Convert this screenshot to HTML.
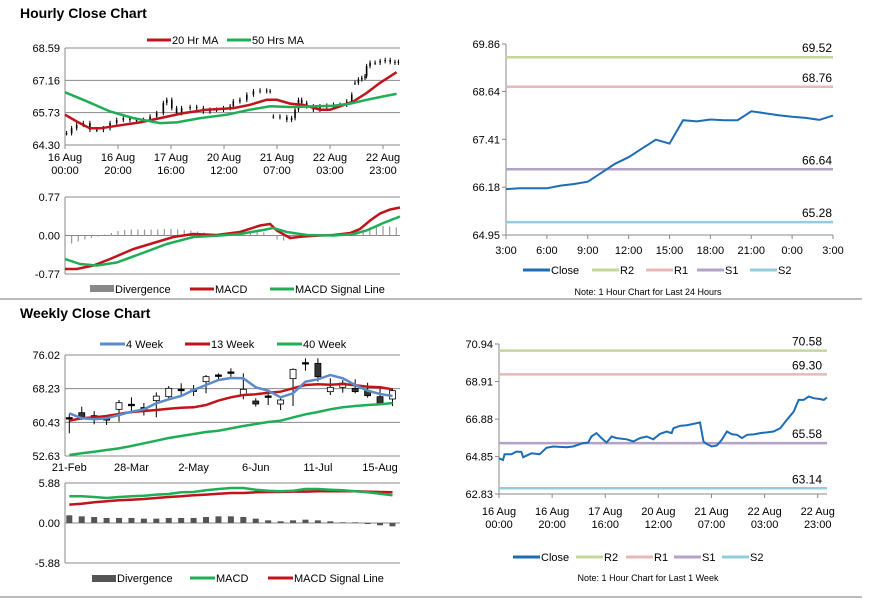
<!DOCTYPE html>
<html><head><meta charset="utf-8"><style>
body{margin:0;background:#fff;}
svg{display:block;font-family:"Liberation Sans",sans-serif;}
text{font-size:11px;fill:#000;}
</style></head><body>
<svg id="c" width="873" height="601" viewBox="0 0 873 601">
<text x="20" y="18" style="font-size:14px;font-weight:bold">Hourly Close Chart</text>
<text x="20" y="318" style="font-size:14px;font-weight:bold">Weekly Close Chart</text>
<line x1="0" y1="299" x2="862" y2="299" stroke="#777"/>
<line x1="0" y1="597" x2="862" y2="597" stroke="#777"/>
</svg>
<script>
// ---------- Hourly candles (t in hours) ----------
const hcT=[0.6,2.5,4.4,6.9,9.4,12.0,14.5,17.0,19.5,22.0,24.5,27.0,29.6,32.1,34.6,37.1,38.4,40.3,42.1,44.0,47.2,49.7,52.2,54.7,57.2,59.8,62.3,63.5,66.0,68.6,71.1,73.6,76.1,77.4,78.6,81.1,83.7,85.5,86.8,88.1,89.3,91.2,93.7,96.2,98.8,101.3,103.8,106.3,108.2,109.4,110.7,112.0,113.2,113.8,115.1,117.0,118.9,120.8,122.7,124.5,125.8];
const hcClose=[64.82,65.04,65.19,65.27,64.97,64.97,65.04,65.27,65.41,65.49,65.41,65.41,65.41,65.56,65.71,66.16,66.30,65.93,65.71,65.93,65.98,65.93,65.78,65.86,65.86,65.93,66.01,66.23,66.30,66.53,66.68,66.71,66.68,66.68,65.56,65.53,65.41,65.49,65.86,66.30,66.16,66.01,65.86,66.01,66.04,66.08,66.08,66.23,66.53,67.05,67.20,67.27,67.34,67.79,67.94,67.94,68.01,68.06,67.97,67.94,67.98];
const ma20T=[0,4.4,9.4,13.2,19.5,28.3,35.9,44.7,53.5,63.6,69.8,76.1,79.9,84.9,89.9,96.2,100.0,103.8,108.8,113.8,118.9,125.1];
const ma20=[65.64,65.34,65.04,65.04,65.15,65.30,65.49,65.71,65.86,65.93,66.08,66.30,66.30,66.13,66.08,65.86,65.86,66.01,66.23,66.60,67.05,67.52];
const ma50T=[0,6.9,17.0,25.8,35.9,42.2,51.0,61.1,69.8,77.4,84.9,95.0,101.3,107.6,113.8,120.1,125.1];
const ma50=[66.63,66.30,65.78,65.49,65.27,65.30,65.49,65.64,65.86,66.01,65.98,66.01,66.04,66.13,66.30,66.45,66.56];
const hTickLabels=[["16 Aug","00:00"],["16 Aug","20:00"],["17 Aug","16:00"],["20 Aug","12:00"],["21 Aug","07:00"],["22 Aug","03:00"],["22 Aug","23:00"]];
const hPriceTicks=[64.30,65.73,67.16,68.59];
// hourly MACD
const hMacdT=[0,4.4,10.7,17.0,25.8,32.1,40.9,48.4,57.2,66.0,73.6,77.4,79.9,84.9,89.9,96.2,101.3,107.6,111.3,115.1,118.9,122.7,126.4];
const hMacd=[-0.67,-0.67,-0.60,-0.47,-0.27,-0.17,-0.03,0.03,0.01,0.07,0.20,0.23,0.10,-0.05,-0.02,0.00,0.01,0.05,0.13,0.30,0.44,0.52,0.56];
const hSigT=[0,5.7,12.0,19.5,28.3,38.4,48.4,58.5,66.0,74.8,78.6,83.7,91.2,101.3,108.8,113.8,120.1,126.4];
const hSig=[-0.47,-0.57,-0.60,-0.54,-0.37,-0.17,-0.03,0.00,0.03,0.11,0.15,0.07,0.01,0.00,0.03,0.10,0.25,0.38];
const hDiv=[-0.20,-0.16,-0.12,-0.08,-0.05,-0.02,0.02,0.05,0.09,0.11,0.12,0.12,0.12,0.12,0.12,0.13,0.13,0.12,0.11,0.10,0.08,0.06,0.04,0.02,0.01,0.02,0.03,0.05,0.06,0.07,0.06,0.00,-0.08,-0.10,-0.08,-0.05,-0.03,-0.02,-0.01,0.00,0.01,0.02,0.03,0.05,0.08,0.12,0.16,0.18,0.19,0.18,0.16];
const hMacdTicks=[-0.77,0.00,0.77];
// ---------- 24h pivot chart ----------
const dHours=["3:00","6:00","9:00","12:00","15:00","18:00","21:00","0:00","3:00"];
const dClose=[66.13,66.15,66.15,66.15,66.22,66.26,66.32,66.55,66.78,66.95,67.18,67.40,67.30,67.90,67.87,67.92,67.90,67.90,68.13,68.08,68.03,67.99,67.96,67.91,68.02];
const dTicks=[64.95,66.18,67.41,68.64,69.86];
const dLevels=[69.52,68.76,66.64,65.28];
// ---------- 1 week pivot chart ----------
const wkT=[0,1.5,2.1,4.7,6.5,8.4,9.1,12.2,15.3,17.9,20.4,25.4,27.9,31.7,33.6,34.8,36.7,38.6,40.5,42.4,44.3,48.1,50.6,53.1,55.6,58.1,60.6,63.1,65.0,65.7,68.2,70.7,73.2,75.7,77.0,78.2,80.1,82.0,83.9,85.8,87.7,89.6,91.5,93.4,95.9,98.4,100.9,103.4,105.9,108.4,111.0,112.8,114.7,116.6,118.5,121.0,122.3,123.5];
const wkClose=[64.76,64.67,64.98,64.98,65.12,65.11,64.82,65.03,64.98,65.33,65.40,65.36,65.40,65.58,65.61,65.94,66.12,65.85,65.61,65.94,65.85,65.79,65.67,65.85,65.94,65.79,66.08,66.21,66.12,66.39,66.52,66.55,66.62,66.70,65.67,65.54,65.40,65.45,65.76,66.21,66.06,66.03,65.85,66.03,66.05,66.12,66.16,66.21,66.39,66.84,67.29,67.92,67.92,68.10,68.01,67.96,67.92,68.05];
const wkTicks=[62.83,64.85,66.88,68.91,70.94];
const wkLevels=[70.58,69.30,65.58,63.14];
// ---------- Weekly candles ----------
const wLabels=["21-Feb","28-Mar","2-May","6-Jun","11-Jul","15-Aug"];
const wOpen=[61.35,62.66,61.97,61.12,63.44,64.44,63.67,65.45,66.37,67.92,67.76,69.85,71.23,71.93,66.76,65.37,66.37,64.67,70.54,74.09,74.09,67.53,68.53,68.30,67.76,66.37,65.83];
const wClose=[61.35,61.58,61.58,60.81,64.98,64.44,63.67,66.50,68.30,67.92,67.76,71.00,71.23,71.93,68.07,64.67,66.37,65.60,72.70,74.09,71.00,68.53,69.50,67.53,66.60,64.83,67.76];
const wHigh=[62.5,64.06,63.05,62.13,65.6,66.2,64.9,67.37,68.84,69.46,69.07,71.39,71.77,72.93,71.77,66.0,67.14,66.2,72.93,75.25,75.25,70.62,70.23,70.39,69.6,68.3,68.3];
const wLow=[57.9,60.97,59.97,59.81,60.58,62.5,62.0,61.6,65.98,66.76,66.53,67.14,70.23,71.0,65.76,64.06,64.44,63.28,64.2,72.39,69.85,66.76,67.3,67.14,66.14,64.44,64.2];
const w4=[62.51,61.35,61.12,61.35,62.13,62.90,63.44,64.83,65.75,66.53,67.92,69.07,70.23,70.69,70.62,68.53,67.76,66.22,67.14,69.85,70.39,71.39,70.62,69.07,67.76,66.99,66.53];
const w13=[60.81,61.35,61.58,61.89,62.36,62.82,63.05,63.28,63.59,63.82,63.90,64.44,65.45,66.22,66.76,66.91,67.30,67.53,68.30,69.07,69.23,69.15,69.30,69.00,68.69,68.53,68.07];
const w40=[52.86,53.25,53.63,54.02,54.40,54.94,55.56,56.18,56.79,57.26,57.72,58.18,58.49,59.03,59.57,60.04,60.50,60.81,61.58,62.28,62.82,63.44,63.90,64.21,64.44,64.60,64.91];
const wTicks=[52.63,60.43,68.23,76.02];
const wMacd=[3.92,3.92,3.82,3.68,3.82,3.92,4.02,4.17,4.26,4.51,4.56,4.80,5.00,5.15,5.15,4.90,4.75,4.66,4.75,5.00,5.00,4.90,4.80,4.66,4.51,4.31,4.07];
const wSig=[2.70,2.84,3.04,3.19,3.33,3.43,3.53,3.68,3.82,3.92,4.07,4.17,4.31,4.41,4.41,4.51,4.56,4.56,4.61,4.61,4.66,4.66,4.66,4.66,4.61,4.56,4.51];
const wDiv=[1.13,0.98,0.88,0.74,0.74,0.74,0.64,0.64,0.74,0.74,0.74,0.88,0.98,0.98,0.88,0.64,0.39,0.25,0.39,0.49,0.39,0.25,0.10,0.10,-0.15,-0.34,-0.49];
const wMacdTicks=[-5.88,0.00,5.88];

const svg=document.getElementById('c');
const NS='http://www.w3.org/2000/svg';
function el(tag,attrs,parent){const e=document.createElementNS(NS,tag);for(const k in attrs)e.setAttribute(k,attrs[k]);(parent||svg).appendChild(e);return e;}
function txt(x,y,s,anchor,parent){const t=el('text',{x:x,y:y,'text-anchor':anchor||'start'},parent);t.textContent=s;return t;}
function lin(d0,d1,r0,r1){return v=>r0+(v-d0)*(r1-r0)/(d1-d0);}
function path(xs,ys,sx,sy){return xs.map((v,i)=>(i?'L':'M')+sx(v).toFixed(1)+','+sy(ys[i]).toFixed(1)).join(' ');}
const RED='#c0141c',GREEN='#1fae55',BLUE='#5b8bc8',CLOSE='#1d6db5';

// ===== Hourly candle panel =====
const hx=lin(0,126.4,65,400), hy=lin(64.30,68.59,145,48);
hPriceTicks.forEach(v=>{
  const g=el('line',{x1:65,x2:400,y1:hy(v),y2:hy(v),stroke:'#888'});
  
  
  const t=txt(60,hy(v)+4,v.toFixed(2),'end');
  
  
});
el('line',{x1:65,x2:65,y1:48,y2:145,stroke:'#888'});
hTickLabels.forEach((l,i)=>{
  const x=hx(i*20);
  el('line',{x1:x,x2:x,y1:145,y2:149,stroke:'#888'});
  const t=txt(x,161,l[0],'middle');
  
  
  txt(x,174,l[1],'middle');
});
hcClose.forEach((c,i)=>{
  let o=i?hcClose[i-1]:c;
  if(Math.abs(c-o)>0.5) o=c;
  const x=hx(hcT[i]);
  const hi=Math.max(o,c)+0.1, lo=Math.min(o,c)-0.1;
  const w=el('line',{x1:x,x2:x,y1:hy(hi),y2:hy(lo),stroke:'#000','stroke-width':1});
  
  
  el('rect',{x:x-0.8,y:hy(Math.max(o,c)),width:1.6,height:Math.max(1,Math.abs(hy(o)-hy(c))),fill:'#000'});
});
let p=el('path',{d:path(ma20T,ma20,hx,hy),fill:'none',stroke:RED,'stroke-width':2.5});

p=el('path',{d:path(ma50T,ma50,hx,hy),fill:'none',stroke:GREEN,'stroke-width':2.5});

el('line',{x1:147,x2:171,y1:40,y2:40,stroke:RED,'stroke-width':3});txt(172,44,'20 Hr MA');
el('line',{x1:227,x2:251,y1:40,y2:40,stroke:GREEN,'stroke-width':3});txt(252,44,'50 Hrs MA');

// ===== Hourly MACD =====
const my=lin(-0.77,0.77,274,197);
hMacdTicks.forEach(v=>{
  el('line',{x1:65,x2:400,y1:my(v),y2:my(v),stroke:'#888'});
  const t=txt(60,my(v)+4,v.toFixed(2),'end');
  
  
});
el('line',{x1:65,x2:65,y1:197,y2:274,stroke:'#888'});
hDiv.forEach((v,i)=>{
  const x=hx(i*2.5);
  const b=el('rect',{x:x-0.6,y:Math.min(my(v),my(0)),width:1.2,height:Math.abs(my(v)-my(0)),fill:'#999'});
  
  
});
p=el('path',{d:path(hMacdT,hMacd,hx,my),fill:'none',stroke:RED,'stroke-width':2.5});

p=el('path',{d:path(hSigT,hSig,hx,my),fill:'none',stroke:GREEN,'stroke-width':2.5});

el('rect',{x:90,y:285,width:24,height:7,fill:'#888'});txt(115,293,'Divergence');
el('line',{x1:190,x2:214,y1:289,y2:289,stroke:RED,'stroke-width':3});txt(215,293,'MACD');
el('line',{x1:270,x2:294,y1:289,y2:289,stroke:GREEN,'stroke-width':3});txt(295,293,'MACD Signal Line');

// ===== Pivot chart helper =====
function pivot(name,xs,ys,x0,x1,tmax,yTicks,y0,y1,levels,labelX,xLab,legY,legX,note,noteY){
  const sx=lin(0,tmax,x0,x1), sy=lin(yTicks[0],yTicks[yTicks.length-1],y0,y1);
  el('line',{x1:x0,x2:x0,y1:y1,y2:y0,stroke:'#888'});
  el('line',{x1:x0,x2:x1,y1:y0,y2:y0,stroke:'#888'});
  yTicks.forEach(v=>{
    el('line',{x1:x0-4,x2:x0,y1:sy(v),y2:sy(v),stroke:'#888'});
    const t=txt(x0-6,sy(v)+4,v.toFixed(2),'end');
    
    
  });
  xLab();
  const cols=['#c4d79b','#e6b9b8','#b3a2c7','#93cddd'], nm=['r2','r1','s1','s2'];
  levels.forEach((v,i)=>{
    const l=el('line',{x1:x0,x2:x1,y1:sy(v),y2:sy(v),stroke:cols[i],'stroke-width':2.5});
    
    
    const t=txt(labelX,sy(v)-5,v.toFixed(2),'end');
    t.style.fontSize='12px';
    
    
  });
  const c=el('path',{d:path(xs,ys,sx,sy),fill:'none',stroke:CLOSE,'stroke-width':2});
  
  
  const lc=[CLOSE].concat(cols), ln=['Close','R2','R1','S1','S2'];
  ln.forEach((s,i)=>{
    el('line',{x1:legX[i],x2:legX[i]+27,y1:legY,y2:legY,stroke:lc[i],'stroke-width':3});
    const t=txt(legX[i]+28,legY+4,s);
    
    
  });
  const n=txt(648,noteY,note,'middle');n.style.fontSize='9px';
  return sx;
}
pivot('daily',dClose.map((v,i)=>i),dClose,506,833,24,dTicks,235,44,dLevels,832,()=>{
  const sx=lin(0,24,506,833);
  dHours.forEach((h,i)=>{el('line',{x1:sx(i*3),x2:sx(i*3),y1:235,y2:239,stroke:'#888'});txt(sx(i*3),254,h,'middle');});
},270,[523,592,646,697,750],'Note: 1 Hour Chart for Last 24 Hours',295);
pivot('weekly-pivot',wkT,wkClose,499,827,123.5,wkTicks,494,344,wkLevels,822,()=>{
  const sx=lin(0,123.5,499,827);
  hTickLabels.forEach((l,i)=>{el('line',{x1:sx(i*20),x2:sx(i*20),y1:494,y2:498,stroke:'#888'});txt(sx(i*20),515,l[0],'middle');txt(sx(i*20),528,l[1],'middle');});
},557,[513,576,626,674,722],'Note: 1 Hour Chart for Last 1 Week',581);

// ===== Weekly candle panel =====
const wx=i=>69.3+i*12.43, wy=lin(52.63,76.02,456,355);
wTicks.forEach(v=>{
  el('line',{x1:65,x2:400,y1:wy(v),y2:wy(v),stroke:'#888'});
  const t=txt(60,wy(v)+4,v.toFixed(2),'end');
  
  
});
el('line',{x1:65,x2:65,y1:355,y2:456,stroke:'#888'});
wLabels.forEach((s,i)=>{
  const t=txt(wx(i*5),471,s,'middle');
  
  
});
wOpen.forEach((o,i)=>{
  const c=wClose[i],x=wx(i);
  el('line',{x1:x,x2:x,y1:wy(wHigh[i]),y2:wy(wLow[i]),stroke:'#000'});
  const top=wy(Math.max(o,c)),h=Math.abs(wy(o)-wy(c));
  const r=el('rect',{x:x-3,y:h<1.5?top-0.75:top,width:6,height:Math.max(1.5,h),fill:c>o?'#fff':(c<o?'#333':'#000'),stroke:'#000','stroke-width':0.8});
  
  
});
const idx=w4.map((v,i)=>i);
p=el('path',{d:path(idx,w40,wx,wy),fill:'none',stroke:GREEN,'stroke-width':2.5});
p=el('path',{d:path(idx,w13,wx,wy),fill:'none',stroke:RED,'stroke-width':2.5});
p=el('path',{d:path(idx,w4,wx,wy),fill:'none',stroke:BLUE,'stroke-width':2.5});
el('line',{x1:100,x2:125,y1:344,y2:344,stroke:BLUE,'stroke-width':3});txt(126,348,'4 Week');
el('line',{x1:185,x2:210,y1:344,y2:344,stroke:RED,'stroke-width':3});txt(211,348,'13 Week');
el('line',{x1:277,x2:302,y1:344,y2:344,stroke:GREEN,'stroke-width':3});txt(303,348,'40 Week');

// ===== Weekly MACD =====
const wmy=lin(-5.88,5.88,563,483);
wMacdTicks.forEach(v=>{
  el('line',{x1:65,x2:400,y1:wmy(v),y2:wmy(v),stroke:'#888'});
  const t=txt(60,wmy(v)+4,v.toFixed(2),'end');
  
  
});
el('line',{x1:65,x2:65,y1:483,y2:563,stroke:'#888'});
wDiv.forEach((v,i)=>{
  const b=el('rect',{x:wx(i)-3,y:Math.min(wmy(v),wmy(0)),width:6,height:Math.abs(wmy(v)-wmy(0)),fill:'#555'});
  
  
});
p=el('path',{d:path(idx,wSig,wx,wmy),fill:'none',stroke:RED,'stroke-width':2.5});
p=el('path',{d:path(idx,wMacd,wx,wmy),fill:'none',stroke:GREEN,'stroke-width':2.5});
el('rect',{x:92,y:575,width:24,height:7,fill:'#555'});txt(117,582,'Divergence');
el('line',{x1:190,x2:215,y1:578,y2:578,stroke:GREEN,'stroke-width':3});txt(216,582,'MACD');
el('line',{x1:268,x2:293,y1:578,y2:578,stroke:RED,'stroke-width':3});txt(294,582,'MACD Signal Line');
</script>
</body></html>
